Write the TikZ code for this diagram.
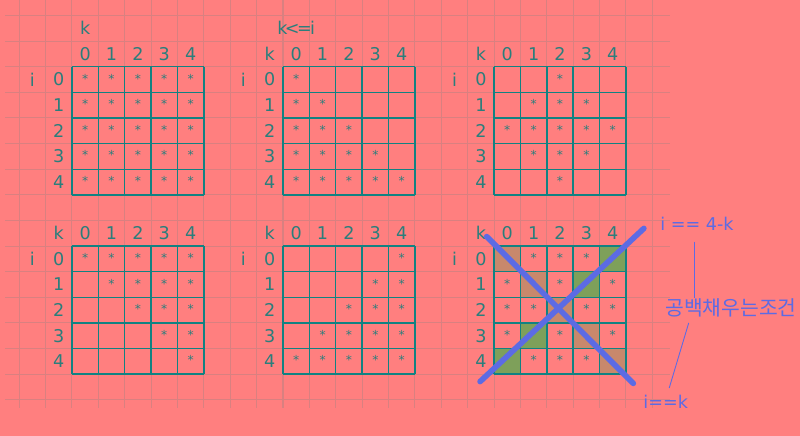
\documentclass[tikz,border=0pt]{standalone}
\usepackage{fontspec}
\setmainfont{DejaVu Sans}
\newfontfamily\kofont{Noto Sans CJK KR}

\definecolor{sheet}{HTML}{FF7F7F}
\definecolor{sheetline}{HTML}{D98080}
\definecolor{tealline}{HTML}{118282}
\definecolor{ink}{HTML}{2A7E7C}
\definecolor{pen}{HTML}{5C6BE4}
\definecolor{leaf}{HTML}{7EA05A}
\definecolor{clay}{HTML}{C8886C}

\begin{document}
\begin{tikzpicture}[x=0.5276cm, y=-0.5124cm,
  lbl/.style={inner sep=0pt, text=ink, font=\fontsize{10}{12}\selectfont},
  starmark/.style={inner sep=0pt, text=ink, yshift=0.6pt, font=\fontsize{7}{8}\selectfont},
  cellline/.style={draw=tealline, line width=0.8pt},
  note/.style={inner sep=0pt, anchor=west, text=pen, font=\fontsize{10}{12}\selectfont},
  leader/.style={draw=pen, line width=0.5pt}]
\fill[sheet] (-0.728,-0.605) rectangle (29.598,16.413);
\useasboundingbox (-0.728,-0.605) rectangle (29.598,16.413);

% sheet cells
\foreach \n in {0,...,24} \draw[sheetline, line width=0.6pt] (\n,-0.605) -- (\n,15.32);
\foreach \m in {0,...,15} \draw[sheetline, line width=0.6pt] (-0.538,\m) -- (24.67,\m);

% coloured cells of the last table
\foreach \c in {0,...,4} \fill[clay] (18+\c,9+\c) rectangle ++(1,1);
\foreach \c in {0,1,3,4} \fill[leaf] (22-\c,9+\c) rectangle ++(1,1);

% tables and headers
\foreach \L/\T [count=\t] in {2/2,10/2,18/2,2/9,10/9,18/9} {
  \foreach \j in {0,...,5} {
    \draw[cellline] (\L+\j,\T) -- (\L+\j,\T+5);
    \draw[cellline] (\L,\T+\j) -- (\L+5,\T+\j);
  }
  \foreach \j in {0,...,4} {
    \node[lbl] (h\t\j) at (\L+\j+0.5,\T-0.5) {\j};
    \node[lbl] (r\t\j) at (\L-0.5,\T+\j+0.5) {\j};
  }
  \node[lbl] (i\t) at (\L-1.5,\T+0.5) {i};
}
\node[lbl] (k1) at (2.5,0.5) {k};
\node[lbl] (k2) at (9.5,1.5) {k};
\node[lbl] (cnd2) at (10.5,0.5) {k\kern-1.5pt<\kern-1.5pt=\kern-1pt i};
\node[lbl] (k3) at (17.5,1.5) {k};
\node[lbl] (k4) at (1.5,8.5) {k};
\node[lbl] (k5) at (9.5,8.5) {k};
\node[lbl] (k6) at (17.5,8.5) {k};

% stars
\foreach \i in {0,...,4} \foreach \k in {0,...,4}
  \node[starmark] (sa\i\k) at (2.5+\k,2.5+\i) {*};
\foreach \i in {0,...,4} \foreach \k in {0,...,\i}
  \node[starmark] (sb\i\k) at (10.5+\k,2.5+\i) {*};
\foreach \i/\a/\b in {0/2/2,1/1/3,2/0/4,3/1/3,4/2/2} \foreach \k in {\a,...,\b}
  \node[starmark] (sc\i\k) at (18.5+\k,2.5+\i) {*};
\foreach \i in {0,...,4} \foreach \k in {\i,...,4}
  \node[starmark] (sd\i\k) at (2.5+\k,9.5+\i) {*};
\foreach \i/\a in {0/4,1/3,2/2,3/1,4/0} \foreach \k in {\a,...,4}
  \node[starmark] (se\i\k) at (10.5+\k,9.5+\i) {*};
\foreach \i/\ks in {0/{1,2,3},1/{0,2,4},2/{0,1,3,4},3/{0,2,4},4/{1,2,3}} \foreach \k in \ks
  \node[starmark] (sf\i\k) at (18.5+\k,9.5+\i) {*};

% cross and notes
\coordinate (x1) at (17.72,8.63);
\coordinate (x2) at (23.28,14.36);
\coordinate (x3) at (17.47,14.29);
\coordinate (x4) at (23.68,8.31);
\draw[pen, line width=3.2pt, line cap=round] (x1) -- (x2);
\draw[pen, line width=3.2pt, line cap=round] (x3) -- (x4);

\node[note] (eq4k) at (24.29,8.14) {i == 4-k};
\node[note, font=\kofont\fontsize{11.6}{14}\selectfont] (cond) at (24.48,11.42) {공백채우는조건};
\node[note] (eqk) at (23.65,15.09) {i==k};
\draw[leader] ([xshift=-1.5pt,yshift=-6pt]eq4k.south) -- ([xshift=-1.5pt]eq4k.south |- cond.north);
\draw[leader] ([xshift=13.5pt,yshift=-3pt]cond.south west) -- ([xshift=2pt,yshift=4pt]eqk.north);
\end{tikzpicture}
\end{document}
